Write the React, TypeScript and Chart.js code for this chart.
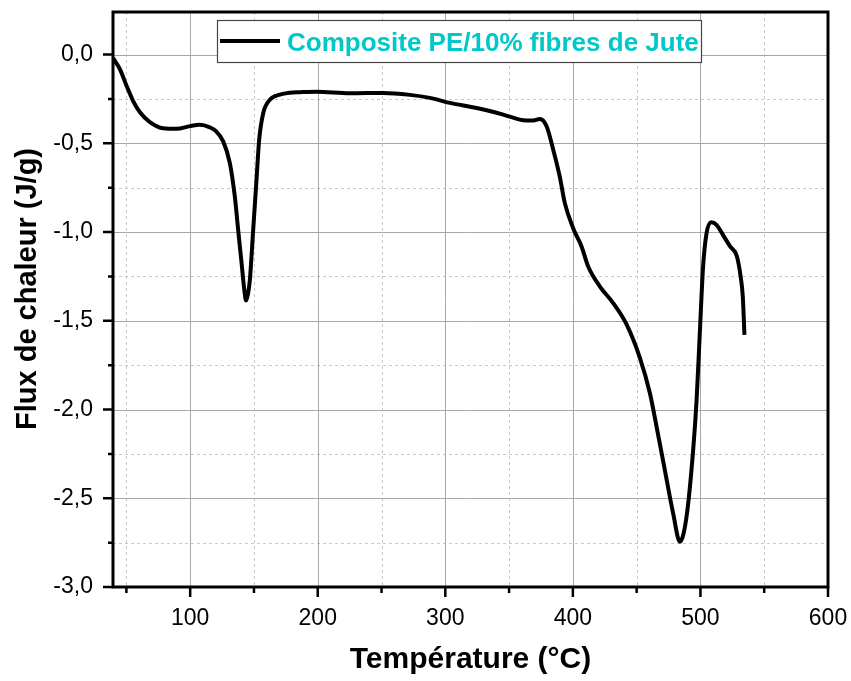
import React, { useEffect, useRef } from 'react';
import { Chart, registerables } from 'chart.js';

Chart.register(...registerables);

const temperature = [
  39.6, 44.9, 50.1, 55.3, 60.6, 68.4, 78.8, 89.3, 99.8, 107.6, 115.4, 120, 125.9, 131.1, 135, 137.6,
  140.3, 142.5, 143.8, 145.3, 146.8, 149.4, 152, 154.1, 157.3, 162.5, 170.3, 178.2, 186, 199.1,
  225.2, 251.3, 272.3, 288, 303.6, 324.5, 345.4, 361.1, 368, 374.2, 379.4, 384.6, 389.8, 393.7,
  400.3, 406.8, 412, 421.2, 431.6, 442.1, 452.6, 460.4, 465.6, 472.1, 478.6, 483.9, 489.1, 494.3,
  497, 499.5, 502.1, 504.8, 508.5, 512.6, 518, 523.3, 528.5, 531.5, 533.2, 534.5,
];
const heatFlux = [
  -0.02, -0.082, -0.175, -0.262, -0.325, -0.38, -0.415, -0.418, -0.403, -0.396, -0.41, -0.43, -0.489,
  -0.611, -0.8, -0.987, -1.175, -1.33, -1.386, -1.35, -1.269, -0.987, -0.705, -0.479, -0.329, -0.254,
  -0.226, -0.215, -0.212, -0.209, -0.218, -0.216, -0.227, -0.244, -0.272, -0.301, -0.338, -0.37,
  -0.372, -0.363, -0.404, -0.536, -0.69, -0.837, -0.98, -1.081, -1.194, -1.307, -1.4, -1.52, -1.71,
  -1.908, -2.096, -2.341, -2.585, -2.745, -2.604, -2.228, -1.946, -1.57, -1.194, -1.006, -0.945,
  -0.959, -1.02, -1.081, -1.135, -1.25, -1.363, -1.579,
];

const xMajorTicks = [100, 200, 300, 400, 500, 600];
const xMinorTicks = [50, 150, 250, 350, 450, 550];
const yMajorTicks = [0, -0.5, -1, -1.5, -2, -2.5, -3];
const yMinorTicks = [-0.25, -0.75, -1.25, -1.75, -2.25, -2.75];

const seriesLabel = 'Composite PE/10% fibres de Jute';
const xTitle = 'Température (°C)';
const yTitle = 'Flux de chaleur (J/g)';

const FONT = "'Liberation Sans', Arial, sans-serif";

const framePlugin = {
  id: 'originFrame',
  beforeDatasetsDraw(chart: any) {
    const { ctx, chartArea: a, scales } = chart;
    const xs = scales.x;
    const ys = scales.y;
    ctx.save();
    ctx.strokeStyle = '#c8c8c8';
    ctx.lineWidth = 1;
    ctx.setLineDash([3, 3]);
    ctx.beginPath();
    xMinorTicks.forEach((v) => {
      const px = Math.round(xs.getPixelForValue(v)) + 0.5;
      ctx.moveTo(px, a.top);
      ctx.lineTo(px, a.bottom);
    });
    yMinorTicks.forEach((v) => {
      const py = Math.round(ys.getPixelForValue(v)) + 0.5;
      ctx.moveTo(a.left, py);
      ctx.lineTo(a.right, py);
    });
    ctx.stroke();
    ctx.setLineDash([]);
    ctx.strokeStyle = '#a8a8a8';
    ctx.beginPath();
    xMajorTicks.forEach((v) => {
      const px = Math.round(xs.getPixelForValue(v)) + 0.5;
      ctx.moveTo(px, a.top);
      ctx.lineTo(px, a.bottom);
    });
    yMajorTicks.forEach((v) => {
      const py = Math.round(ys.getPixelForValue(v)) + 0.5;
      ctx.moveTo(a.left, py);
      ctx.lineTo(a.right, py);
    });
    ctx.stroke();
    ctx.restore();
  },
  afterDatasetsDraw(chart: any) {
    const { ctx, chartArea: a, scales } = chart;
    const xs = scales.x;
    const ys = scales.y;
    ctx.save();
    ctx.strokeStyle = '#000';
    ctx.lineWidth = 3;
    ctx.strokeRect(a.left, a.top, a.right - a.left, a.bottom - a.top);
    ctx.lineWidth = 2.5;
    ctx.beginPath();
    xMajorTicks.forEach((v) => {
      const px = xs.getPixelForValue(v);
      ctx.moveTo(px, a.bottom);
      ctx.lineTo(px, a.bottom + 10);
    });
    xMinorTicks.forEach((v) => {
      const px = xs.getPixelForValue(v);
      ctx.moveTo(px, a.bottom);
      ctx.lineTo(px, a.bottom + 6);
    });
    yMajorTicks.forEach((v) => {
      const py = ys.getPixelForValue(v);
      ctx.moveTo(a.left, py);
      ctx.lineTo(a.left - 10, py);
    });
    yMinorTicks.forEach((v) => {
      const py = ys.getPixelForValue(v);
      ctx.moveTo(a.left, py);
      ctx.lineTo(a.left - 5, py);
    });
    ctx.stroke();
    // legend
    const bx = 217, by = 20, bw = 484, bh = 42;
    ctx.fillStyle = '#fff';
    ctx.fillRect(bx, by, bw, bh);
    ctx.strokeStyle = '#444';
    ctx.lineWidth = 1.2;
    ctx.strokeRect(bx + 0.5, by + 0.5, bw, bh);
    const ds = chart.data.datasets[0];
    ctx.strokeStyle = ds.borderColor;
    ctx.lineWidth = 4;
    ctx.beginPath();
    ctx.moveTo(220, 41);
    ctx.lineTo(280, 41);
    ctx.stroke();
    ctx.fillStyle = '#00c8c8';
    ctx.font = `bold 26px ${FONT}`;
    ctx.textBaseline = 'alphabetic';
    ctx.textAlign = 'left';
    ctx.fillText(ds.label, 287, 51);
    // y axis title
    ctx.translate(28, 289);
    ctx.rotate(-Math.PI / 2);
    ctx.fillStyle = '#000';
    ctx.font = `bold 29px ${FONT}`;
    ctx.textAlign = 'center';
    ctx.textBaseline = 'middle';
    ctx.fillText(yTitle, 0, 0);
    ctx.restore();
  },
};

function fmt(v: number) {
  return v.toFixed(1).replace('.', ',');
}

export default function App() {
  const ref = useRef<HTMLCanvasElement>(null);
  useEffect(() => {
    if (!ref.current) return;
    const chart = new Chart(ref.current, {
      type: 'line',
      data: {
        datasets: [
          {
            label: seriesLabel,
            data: temperature.map((t, i) => ({ x: t, y: heatFlux[i] })),
            borderColor: '#000',
            borderWidth: 4,
            pointRadius: 0,
            fill: false,
            cubicInterpolationMode: 'monotone',
          },
        ],
      },
      plugins: [framePlugin],
      options: {
        animation: false,
        responsive: false,
        devicePixelRatio: 1,
        layout: { padding: { left: 0, top: 12, right: 23, bottom: 0 } },
        plugins: { legend: { display: false }, tooltip: { enabled: false } },
        scales: {
          x: {
            type: 'linear',
            min: 39.5,
            max: 600,
            afterBuildTicks: (s: any) => {
              s.ticks = xMajorTicks.map((v) => ({ value: v }));
            },
            afterFit: (s: any) => {
              s.height = 94;
              s.paddingLeft = 0;
              s.paddingRight = 0;
            },
            grid: { display: false, drawTicks: false },
            border: { display: false },
            ticks: {
              padding: 18,
              color: '#000',
              font: { family: FONT, size: 23 },
              maxRotation: 0,
              callback: (v: any) => String(v),
            },
            title: {
              display: true,
              text: xTitle,
              color: '#000',
              font: { family: FONT, size: 30, weight: 'bold', lineHeight: 1 },
              padding: { top: 0, bottom: 6 },
            },
          },
          y: {
            type: 'linear',
            min: -3,
            max: 0.24,
            afterBuildTicks: (s: any) => {
              s.ticks = yMajorTicks.map((v) => ({ value: v }));
            },
            afterFit: (s: any) => {
              s.width = 113;
              s.paddingTop = 0;
              s.paddingBottom = 0;
            },
            grid: { display: false, drawTicks: false },
            border: { display: false },
            ticks: {
              padding: 20,
              color: '#000',
              font: { family: FONT, size: 23 },
              callback: (v: any) => fmt(Number(v)),
            },
            title: { display: false, text: yTitle },
          },
        },
      },
    } as any);
    return () => chart.destroy();
  }, []);
  return (
    <div style={{ position: 'absolute', left: 0, top: 0, width: 851, height: 681, background: '#fff' }}>
      <canvas ref={ref} width={851} height={681} />
    </div>
  );
}
